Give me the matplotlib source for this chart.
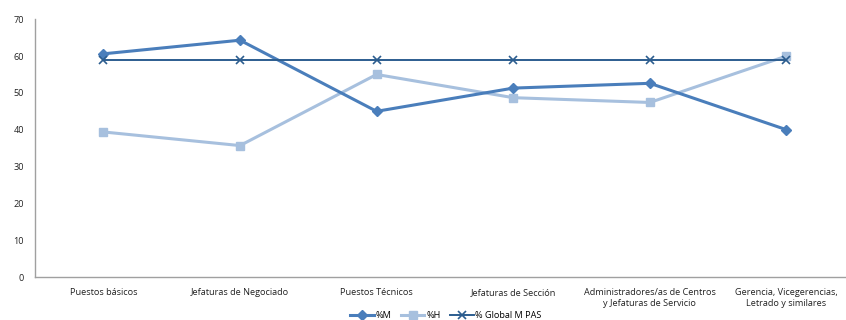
import matplotlib
matplotlib.use("Agg")
import matplotlib.pyplot as plt

categories = ["Puestos básicos", "Jefaturas de Negociado", "Puestos Técnicos",
              "Jefaturas de Sección", "Administradores/as de Centros\ny Jefaturas de Servicio",
              "Gerencia, Vicegerencias,\nLetrado y similares"]
pct_m = [60.6, 64.3, 45.0, 51.3, 52.6, 40.0]
pct_h = [39.4, 35.7, 55.0, 48.7, 47.4, 60.0]
pct_global = [58.8, 58.8, 58.8, 58.8, 58.8, 58.8]
yticks = [0, 10, 20, 30, 40, 50, 60, 70]

plt.rcParams['font.family'] = ['Open Sans', 'DejaVu Sans']
fig = plt.figure(figsize=(8.46, 3.2), dpi=100)
ax = fig.add_axes([0.0414, 0.134, 0.969, 0.806])
x = list(range(len(categories)))

ax.plot(x, pct_m, color="#4a7ebb", lw=2.2, marker="D", ms=5.5, label="%M", zorder=3)
ax.plot(x, pct_h, color="#a7c0de", lw=2.2, marker="s", ms=6, label="%H", zorder=2)
ax.plot(x, pct_global, color="#2c5d8f", lw=1.4, marker="x", ms=6, mew=1.2, label="% Global M PAS", zorder=4)

ax.set_xlim(-0.5, 5.5)
ax.set_ylim(0, 70)
ax.set_yticks(yticks)
ax.set_xticks(x)
ax.set_xticklabels(categories, fontsize=6.6, color="#222222")
ax.tick_params(axis='y', labelsize=6.6, colors="#222222", length=0, pad=8)
ax.tick_params(axis='x', length=0, pad=8)
for s in ["top", "right"]:
    ax.spines[s].set_visible(False)
for s in ["left", "bottom"]:
    ax.spines[s].set_color("#a0a0a0")
    ax.spines[s].set_linewidth(1.0)

leg = fig.legend(loc="lower center", bbox_to_anchor=(0.527, -0.025), ncol=3, frameon=False,
                 fontsize=6.6, handlelength=2.6, columnspacing=1.0, handletextpad=0.2)
fig.savefig("out.png", dpi=100)
